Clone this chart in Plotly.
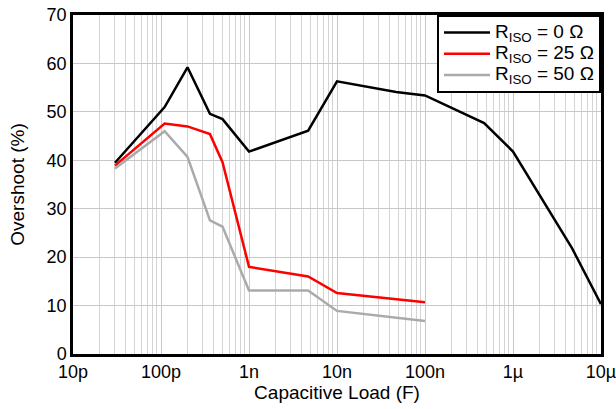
import plotly.graph_objects as go

# Capacitive load (F)
cap_r0 = [3e-11, 1.1e-10, 2e-10, 3.6e-10, 5e-10, 1e-9, 4.7e-9, 1e-8, 4.7e-8, 1e-7, 4.7e-7, 1e-6, 4.7e-6, 1e-5]
os_r0 = [39.5, 51.0, 59.2, 49.6, 48.5, 41.8, 46.1, 56.3, 54.1, 53.4, 47.7, 41.8, 21.8, 10.3]

cap_r25 = [3e-11, 1.1e-10, 2e-10, 3.6e-10, 5e-10, 1e-9, 4.7e-9, 1e-8, 1e-7]
os_r25 = [38.9, 47.6, 47.0, 45.4, 39.6, 18.0, 16.0, 12.6, 10.7]

cap_r50 = [3e-11, 1.1e-10, 2e-10, 3.6e-10, 5e-10, 1e-9, 4.7e-9, 1e-8, 1e-7]
os_r50 = [38.3, 46.0, 40.7, 27.6, 26.3, 13.1, 13.1, 8.9, 6.8]

series_names = ["R<sub>ISO</sub> = 0 \u03a9", "R<sub>ISO</sub> = 25 \u03a9", "R<sub>ISO</sub> = 50 \u03a9"]

x_tickvals = [1e-11, 1e-10, 1e-9, 1e-8, 1e-7, 1e-6, 1e-5]
x_ticktext = ["10p", "100p", "1n", "10n", "100n", "1\u00b5", "10\u00b5"]
y_tickvals = [0, 10, 20, 30, 40, 50, 60, 70]

minor_vals = [m * d for d in [1e-11, 1e-10, 1e-9, 1e-8, 1e-7, 1e-6] for m in range(2, 10)]

font = "Liberation Sans, Arial, sans-serif"


def legend_label(s):
    return '<span style="font-size:19px">' + s + "</span>"


fig = go.Figure()
fig.add_trace(go.Scatter(x=cap_r0, y=os_r0, mode="lines", name=legend_label(series_names[0]),
                         line=dict(color="black", width=2.5)))
fig.add_trace(go.Scatter(x=cap_r25, y=os_r25, mode="lines", name=legend_label(series_names[1]),
                         line=dict(color="#ff0000", width=2.5)))
fig.add_trace(go.Scatter(x=cap_r50, y=os_r50, mode="lines", name=legend_label(series_names[2]),
                         line=dict(color="#aaaaaa", width=2.5)))

fig.update_layout(
    width=616, height=409,
    margin=dict(l=73, r=15, t=15, b=55, autoexpand=False),
    paper_bgcolor="white", plot_bgcolor="white",
    font=dict(family=font, size=18, color="black"),
    showlegend=True,
    legend=dict(x=1, y=1, xanchor="right", yanchor="top",
                bordercolor="black", borderwidth=2, bgcolor="white",
                font=dict(size=14), tracegroupgap=0, itemwidth=46),
    xaxis=dict(type="log", range=[-11, -5], tickvals=x_tickvals, ticktext=x_ticktext,
               showgrid=True, gridcolor="#c8c8c8", gridwidth=1,
               minor=dict(tickvals=minor_vals, showgrid=True, gridcolor="#d4d4d4", gridwidth=1, ticks=""),
               showline=True, linecolor="black", linewidth=2.5, mirror=True,
               ticks="", ticklen=0, automargin=False, ticklabeloverflow="allow",
               title=dict(text="Capacitive Load (F)", standoff=2, font=dict(size=19)),
               zeroline=False),
    yaxis=dict(range=[0, 70], tickvals=y_tickvals,
               showgrid=True, gridcolor="#c8c8c8", gridwidth=1,
               showline=True, linecolor="black", linewidth=2.5, mirror=True,
               ticks="", automargin=False, ticklabeloverflow="allow",
               title=dict(text="Overshoot (%)", standoff=17, font=dict(size=19)),
               zeroline=False),
)

fig.write_html("out.html", config={"displayModeBar": False},
               post_script="document.body.style.margin='0';document.body.style.overflow='hidden';")
